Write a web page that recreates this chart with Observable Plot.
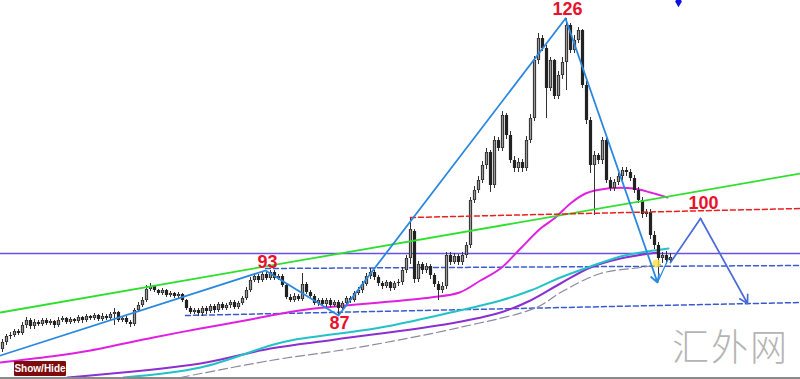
<!DOCTYPE html>
<html><head><meta charset="utf-8">
<script src="https://cdn.jsdelivr.net/npm/d3@7"></script>
<script src="https://cdn.jsdelivr.net/npm/@observablehq/plot@0.6"></script>
<style>
html,body{margin:0;padding:0;background:#fff;}
#wrap{position:relative;width:800px;height:379px;overflow:hidden;background:#fff;}
#btn{position:absolute;left:14px;top:361px;width:52px;height:15px;background:#7d0b0b;color:#fff;font:bold 10px "Liberation Sans Narrow","Liberation Sans",sans-serif;line-height:15px;text-align:center;border-radius:1px;}
#wm{position:absolute;left:672px;top:321px;font:300 37px "Noto Sans CJK SC",sans-serif;color:#b4b4b4;letter-spacing:2px;line-height:48px;}
</style></head><body><div id="wrap"></div>
<script>
// Candles (bar index, price units)
const opens = [30,37,43,44,48,46,54,59,53,57, 55,59,56,58,54,59,61,57,60,58, 62,59,63,61,64,60,63,61,65,67,
 59,61,57,55,69,74,79,90,93,89, 86,89,84,86,83,85,79,71,67,69, 66,71,68,73,69,75,71,74,77,72,
 76,81,89,99,103,99,105,101,107,101, 103,94,82,79,83,80,95,87,83,76, 79,75,79,74,77,71,76,81,79,86,
 89,95,103,107,102,96,93,97,91,96, 97,109,121,148,100,115,109,113,104,95, 89,93,124,117,123,117,124,134,179,189,
 199,214,227,194,239,231,264,244,219,211, 217,211,239,261,319,341,331,291,319,283, 304,317,354,329,339,349,294,259,214,224,
 219,239,199,191,197,203,209,207,201,189, 179,165,167,144,134,121,124,119];
const closes = [37,43,44,48,46,54,59,53,57,55, 59,56,58,54,59,61,57,60,58,62, 59,63,61,64,60,63,61,65,67,59,
 61,57,55,69,74,79,90,93,89,86, 89,84,86,83,85,79,71,67,69,66, 71,68,73,69,75,71,74,77,72,76,
 81,89,99,103,99,105,101,107,101,103, 94,82,79,83,80,95,87,83,76,79, 75,79,74,77,71,76,81,79,86,89,
 95,103,107,102,96,93,97,91,96,97, 109,121,150,100,115,109,113,104,95,89, 93,124,117,123,117,124,134,179,189,199,
 214,227,194,239,231,264,244,219,211,217, 211,239,261,319,341,331,291,319,283,304, 317,354,329,339,349,294,259,214,224,219,
 239,199,191,197,203,209,207,201,189,179, 165,167,144,134,121,124,119,122];
const highs = [40,45,47,50,50,57,62,61,60,59, 61,61,60,59,62,63,62,62,61,64, 63,65,64,66,65,66,65,67,71,68,
 63,63,59,71,77,82,94,96,94,90, 91,90,88,87,87,86,80,73,71,71, 73,73,75,75,77,77,76,79,79,78,
 83,92,102,106,105,108,107,109,109,105, 105,96,85,86,85,106,97,89,85,81, 81,81,81,79,79,78,83,83,88,92,
 98,106,111,109,104,98,99,98,98,100, 112,124,161,150,118,117,116,115,106,98, 97,127,127,126,125,127,137,182,193,203,
 218,231,229,243,242,268,266,248,223,221, 220,243,265,323,346,344,334,322,320,308, 322,361,356,344,352,350,298,262,228,226,
 242,241,202,200,206,212,212,210,204,192, 182,170,170,148,137,127,128,126];
const lows = [27,34,40,42,44,44,51,50,50,53, 53,54,54,51,52,57,55,55,56,56, 56,57,59,59,58,58,59,59,54,57,
 57,55,52,53,67,72,77,88,87,84, 84,82,82,81,81,77,69,65,65,63, 63,65,66,66,67,69,69,71,70,70,
 74,79,87,97,96,97,99,99,99,99, 92,80,77,77,78,78,85,80,74,73, 73,72,72,72,65,69,74,76,77,84,
 86,93,100,99,93,90,91,88,89,93, 94,106,115,96,97,105,106,100,92,79, 86,90,114,115,114,114,121,131,176,186,
 196,210,187,191,228,228,240,216,207,207, 207,208,236,258,315,328,261,288,280,280, 300,289,326,326,336,291,255,206,164,215,
 215,196,188,188,194,199,203,198,186,176, 161,162,140,130,104,116,115,116];

// Moving averages (bar index, price)
const maMagenta = [[-0.5,17],[12,23],[22,29],[37.75,42],[49.5,51],[62,60],[67,64],[76,70],[85.75,74],[94.5,77],[107,82],[114.25,87],[119.5,99],[124.5,111],[129.5,131],[134.5,151],[138.25,162],[142,176],[145.75,186],[151.25,191],[157.75,191],[162,187],[166.25,182]];
const maCyan = [[30.25,2],[49.5,12],[67,34],[72,39],[94.5,52],[112,67],[124.5,79],[132,89],[139.5,102],[147,113],[154.5,123],[159.5,127],[166.5,131]];
const maPurple = [[16.25,2],[49.5,16],[67,31],[83.25,40],[112,56],[124.5,67],[132,79],[139.5,96],[147,112],[154.5,121],[163.75,127]];
const maGray = [[44.5,2],[67,19],[88.75,32],[114.25,52],[133.5,72],[139.5,87],[149.5,106],[159.5,112],[164.5,115]];

// Drawn objects
const greenTrend = [[-0.5,67],[199.5,206]];
const zigzag = [[-0.5,24],[65.75,109],[84,64],[140.75,361]];
const zigzagLast = [{x1:140.75,y1:361,x2:163.75,y2:97}];
const smallLeg = [[163.75,97],[166.5,121]];
const projUp = [[167,117],[174.5,161]];
const projDown = [{x1:174.5,y1:161,x2:186.25,y2:76}];
const levelSolid = [126];
const dashUpper = [[65.75,111],[199.5,114]];
const dashLower = [[45.75,64],[199.5,77]];
const redDash = [[102,162],[199.5,171]];
const labels = [
  {x:66.25,y:117,t:"93"},
  {x:84.25,y:56,t:"87"},
  {x:141.25,y:370,t:"126"},
  {x:175.25,y:176,t:"100"}
];

const candles = closes.map((c,i)=>({i, o:opens[i], c, h:highs[i], l:lows[i]}));
const pt = a => a.map(([x,y])=>({x,y}));

const chart = Plot.plot({
  width:800, height:379,
  margin:0,
  x:{domain:[-0.5,199.5], axis:null},
  y:{domain:[0,379], axis:null},
  style:{background:"#fff", overflow:"hidden"},
  marks:[
    Plot.ruleY(levelSolid, {stroke:"#6a50e6", strokeWidth:1.4}),
    Plot.line(pt(dashUpper), {x:"x", y:"y", stroke:"#3a5bd0", strokeWidth:1.5, strokeDasharray:"5,3"}),
    Plot.line(pt(dashLower), {x:"x", y:"y", stroke:"#3a5bd0", strokeWidth:1.5, strokeDasharray:"5,3"}),
    Plot.line(pt(maGray), {x:"x", y:"y", stroke:"#8a8aa0", strokeWidth:1.2, strokeDasharray:"9,4", curve:"catmull-rom"}),
    Plot.line(pt(maPurple), {x:"x", y:"y", stroke:"#8c2fd0", strokeWidth:2, curve:"catmull-rom"}),
    Plot.line(pt(maCyan), {x:"x", y:"y", stroke:"#22c2c8", strokeWidth:2, curve:"catmull-rom"}),
    Plot.line(pt(maMagenta), {x:"x", y:"y", stroke:"#e020e0", strokeWidth:2, curve:"catmull-rom"}),
    Plot.ruleX(candles, {x:"i", y1:"l", y2:"h", stroke:"#333", strokeWidth:1}),
    Plot.ruleX(candles, {x:"i", y1:"o", y2:"c", stroke:"#222", strokeWidth:3.2}),
    Plot.ruleX(candles.filter(d=>d.c>=d.o && d.c-d.o>=2), {x:"i", y1:d=>d.o+0.6, y2:d=>d.c-0.6, stroke:"#9a9a9a", strokeWidth:1.4}),
    Plot.line(pt(greenTrend), {x:"x", y:"y", stroke:"#2ee02e", strokeWidth:1.8}),
    Plot.line(pt(redDash), {x:"x", y:"y", stroke:"#e82020", strokeWidth:1.5, strokeDasharray:"5,3"}),
    Plot.line(pt(zigzag), {x:"x", y:"y", stroke:"#2a88e0", strokeWidth:1.8}),
    Plot.arrow(zigzagLast, {x1:"x1", y1:"y1", x2:"x2", y2:"y2", stroke:"#2a88e0", strokeWidth:1.8, headLength:7}),
    Plot.line(pt(smallLeg), {x:"x", y:"y", stroke:"#2a88e0", strokeWidth:1.2}),
    Plot.line(pt(projUp), {x:"x", y:"y", stroke:"#4a6ad8", strokeWidth:1.7}),
    Plot.arrow(projDown, {x1:"x1", y1:"y1", x2:"x2", y2:"y2", stroke:"#4a6ad8", strokeWidth:1.7, headLength:8}),
    Plot.dot([{x:163.5,y:116}], {x:"x", y:"y", r:4, fill:"#ffe040", fillOpacity:0.8}),
    Plot.dot([{x:169,y:378}], {x:"x", y:"y", r:3.5, symbol:"diamond", fill:"#1010e0"}),
    Plot.ruleY([1], {stroke:"#8a8a8a", strokeWidth:3}),
    Plot.text(labels, {x:"x", y:"y", text:"t", fill:"#e8122c", fontSize:18, fontWeight:"bold", fontFamily:"Liberation Sans, Arial, sans-serif"})
  ]
});
const wrap = document.getElementById("wrap");
wrap.appendChild(chart);
const btn = document.createElement("div"); btn.id="btn"; btn.textContent="Show/Hide"; wrap.appendChild(btn);
const wm = document.createElement("div"); wm.id="wm"; wm.textContent="汇外网"; wrap.appendChild(wm);
</script>
</body></html>
